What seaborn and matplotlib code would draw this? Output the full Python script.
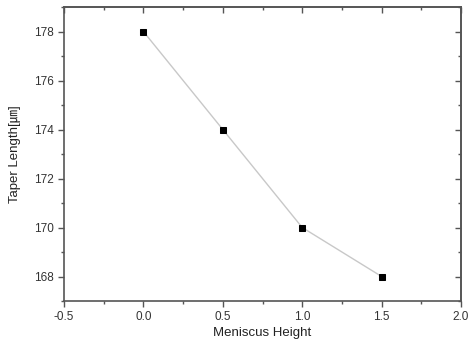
import matplotlib
matplotlib.use("Agg")
import matplotlib.pyplot as plt
import seaborn as sns
import pandas as pd
from matplotlib.ticker import MultipleLocator

meniscus_height = [0.0, 0.5, 1.0, 1.5]
taper_length = [178, 174, 170, 168]

sns.set_style("ticks")
plt.rcParams['font.family'] = ['Liberation Sans', 'Noto Sans CJK JP', 'DejaVu Sans']

df = pd.DataFrame({"x": meniscus_height, "y": taper_length})

fig = plt.figure(figsize=(4.73, 3.49), dpi=100)
ax = fig.add_axes([64/473, 1-301/349, (461-64)/473, (301-7)/349])

sns.lineplot(data=df, x="x", y="y", ax=ax, color="#c8c8c8", linewidth=1.0,
             marker="s", markersize=5, markerfacecolor="black",
             markeredgecolor="black", zorder=3)

ax.set_xlim(-0.5, 2.0)
ax.set_ylim(167, 179)
ax.set_xticks([-0.5, 0.0, 0.5, 1.0, 1.5, 2.0])
ax.set_xticklabels(["-0.5", "0.0", "0.5", "1.0", "1.5", "2.0"])
ax.xaxis.set_minor_locator(MultipleLocator(0.25))
ax.yaxis.set_major_locator(MultipleLocator(2))
ax.yaxis.set_minor_locator(MultipleLocator(1))

for s in ax.spines.values():
    s.set_visible(True)
    s.set_color("#555555")
    s.set_linewidth(1.2)

tc = "#555555"
ax.tick_params(axis="both", which="major", direction="out", length=4, width=1,
               color=tc, labelsize=8.5, labelcolor="#333333", pad=3)
ax.tick_params(axis="both", which="minor", direction="out", length=2, width=1, color=tc)
ax.tick_params(top=False, right=False, which="both")

# mirrored inward ticks on top and right
top = ax.secondary_xaxis("top")
top.set_xticks([-0.5, 0.0, 0.5, 1.0, 1.5, 2.0])
top.xaxis.set_minor_locator(MultipleLocator(0.25))
top.tick_params(which="major", direction="in", length=4, width=1, color=tc, labeltop=False)
top.tick_params(which="minor", direction="in", length=2, width=1, color=tc)
top.spines["top"].set_color("#555555")
top.spines["top"].set_linewidth(1.2)

right = ax.secondary_yaxis("right")
right.yaxis.set_major_locator(MultipleLocator(2))
right.yaxis.set_minor_locator(MultipleLocator(1))
right.tick_params(which="major", direction="in", length=4, width=1, color=tc, labelright=False)
right.tick_params(which="minor", direction="in", length=2, width=1, color=tc)
right.spines["right"].set_color("#555555")
right.spines["right"].set_linewidth(1.2)

ax.set_xlabel("Meniscus Height", fontsize=9.5, color="#222222", labelpad=3)
ax.set_ylabel("Taper Length[㎛]", fontsize=9.5, color="#222222", labelpad=10)

fig.savefig("out.png", dpi=100)
